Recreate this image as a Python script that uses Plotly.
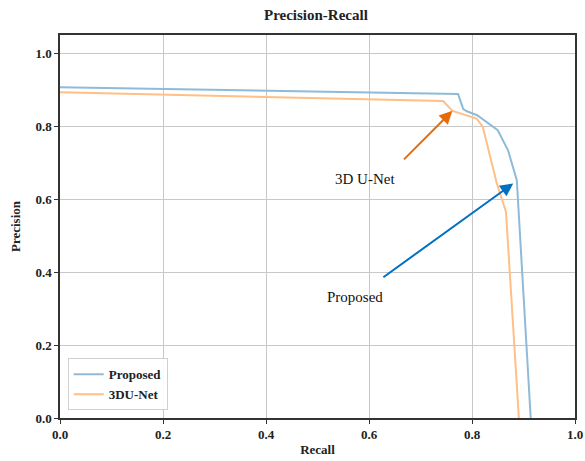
import plotly.graph_objects as go

recall_proposed = [0.0, 0.773, 0.783, 0.79, 0.81, 0.85, 0.870, 0.887, 0.914]
precision_proposed = [0.907, 0.888, 0.847, 0.841, 0.830, 0.789, 0.734, 0.652, 0.0]

recall_unet = [0.0, 0.744, 0.762, 0.809, 0.821, 0.848, 0.866, 0.891]
precision_unet = [0.893, 0.869, 0.842, 0.821, 0.798, 0.644, 0.565, 0.0]

series_names = ["Proposed", "3DU-Net"]
tick_vals = [0.0, 0.2, 0.4, 0.6, 0.8, 1.0]
tick_text = ["0.0", "0.2", "0.4", "0.6", "0.8", "1.0"]

serif = "Liberation Serif"

fig = go.Figure()
fig.add_trace(go.Scatter(x=recall_proposed, y=precision_proposed, mode="lines",
                         name=series_names[0], line=dict(color="#8fbbd9", width=2)))
fig.add_trace(go.Scatter(x=recall_unet, y=precision_unet, mode="lines",
                         name=series_names[1], line=dict(color="#ffbf86", width=2)))

axis_common = dict(
    showgrid=True, gridcolor="#c8c8c8", gridwidth=1.2,
    showline=True, linecolor="#333", linewidth=1.5, mirror=True,
    ticks="outside", ticklen=4, tickcolor="#333",
    tickvals=tick_vals, ticktext=tick_text,
    tickfont=dict(family=serif, size=13, color="#222", weight="bold"),
    zeroline=False, automargin=False,
)
fig.update_xaxes(range=[0, 1], title=dict(text="<b>Recall</b>", font=dict(family=serif, size=13, color="#222"), standoff=4), **axis_common)
fig.update_yaxes(range=[0, 1.05], title=dict(text="<b>Precision</b>", font=dict(family=serif, size=13, color="#222"), standoff=12), **axis_common)

fig.add_annotation(x=0.762, y=0.842, ax=0.665, ay=0.705, axref="x", ayref="y",
                   xref="x", yref="y", text="", showarrow=True, arrowhead=2,
                   arrowsize=1.3, arrowwidth=2, arrowcolor="#e46c0a")
fig.add_annotation(x=0.592, y=0.655, text="3D U-Net", showarrow=False,
                   font=dict(family=serif, size=15, color="#111"))
fig.add_annotation(x=0.88, y=0.643, ax=0.625, ay=0.383, axref="x", ayref="y",
                   xref="x", yref="y", text="", showarrow=True, arrowhead=2,
                   arrowsize=1.3, arrowwidth=2, arrowcolor="#0070c0")
fig.add_annotation(x=0.573, y=0.332, text="Proposed", showarrow=False,
                   font=dict(family=serif, size=15, color="#111"))

fig.update_layout(
    width=585, height=461,
    margin=dict(l=60, r=10, t=35, b=43),
    paper_bgcolor="white", plot_bgcolor="white",
    title=dict(text="<b>Precision-Recall</b>", x=0.54, xanchor="center", y=0.967, yanchor="middle",
               font=dict(family=serif, size=15, color="#222")),
    legend=dict(x=0.015, y=0.02, xanchor="left", yanchor="bottom",
                bgcolor="rgba(255,255,255,0.9)", bordercolor="#d0d0d0", borderwidth=1,
                font=dict(family=serif, size=13, color="#222", weight="bold")),
    showlegend=True,
)

fig.write_html("out.html", config={"displayModeBar": False},
               post_script="document.body.style.margin='0px';document.body.style.overflow='hidden';")
